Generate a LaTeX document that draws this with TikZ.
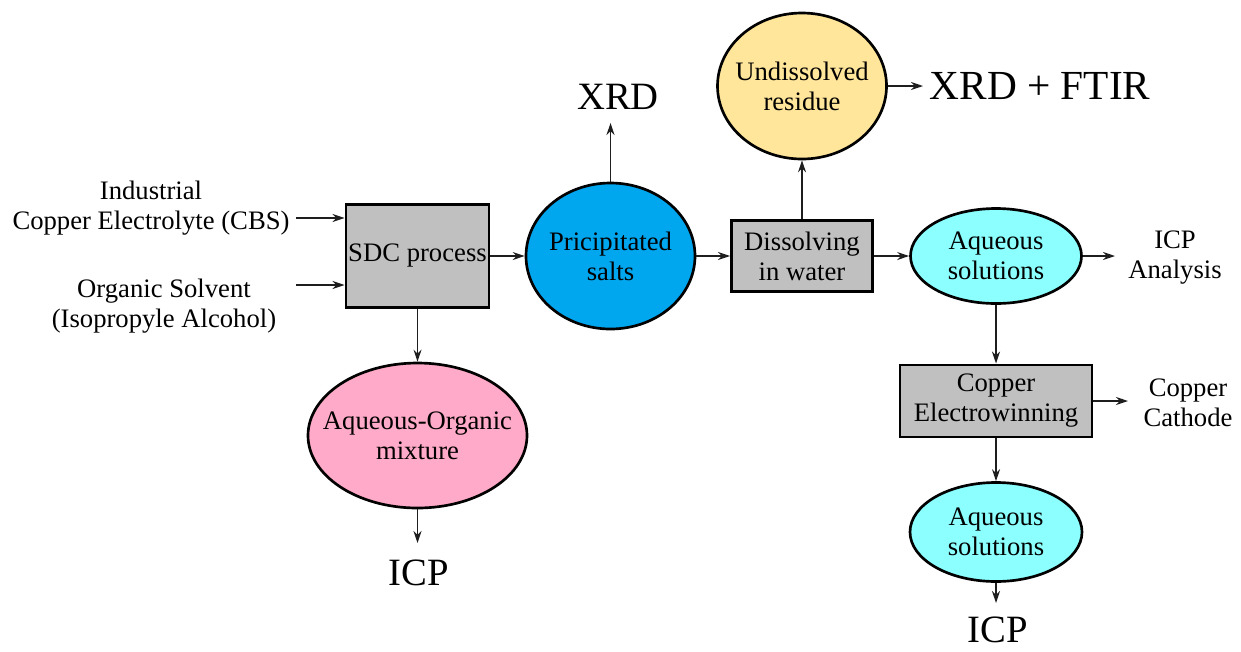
\documentclass[tikz,border=0pt]{standalone}
\usepackage{fontspec}
\setmainfont{Liberation Serif}
\usetikzlibrary{shapes.geometric,arrows.meta}
\definecolor{boxgray}{RGB}{192,192,192}
\definecolor{saltblue}{RGB}{0,166,238}
\definecolor{resyellow}{RGB}{255,230,155}
\definecolor{aqcyan}{RGB}{140,255,255}
\definecolor{mixpink}{RGB}{255,170,200}
\definecolor{linegray}{RGB}{30,30,30}
\newcommand\myfs{\fontsize{20pt}{22.5pt}\selectfont}
\newcommand\mybig{\fontsize{29pt}{32pt}\selectfont}
\begin{document}
\begin{tikzpicture}[x=0.75pt,y=-0.75pt,
  proc/.style={draw=black,line width=2.2pt,fill=boxgray,inner sep=0pt,align=center,font=\myfs},
  blob/.style={ellipse,draw=black,line width=2pt,inner sep=0pt},
  lbl/.style={inner sep=0pt,align=center,font=\myfs},
  biglbl/.style={inner sep=0pt,align=center,font=\mybig},
  arr/.style={draw=linegray,line width=1.1pt,-{Stealth[length=9pt,width=6pt]}}]
\useasboundingbox (0,0) rectangle (1241,651);

% process boxes
\node[proc,minimum width=107.25pt,minimum height=77.25pt] (sdc) at (417.5,256) {SDC process};
\node[proc,minimum width=105.75pt,minimum height=53.25pt] (dis) at (802,256) {Dissolving\\in water};
\node[proc,minimum width=144pt,minimum height=54pt] (ew) at (996,401) {Copper\\Electrowinning};

% ellipses
\node[blob,fill=saltblue,minimum width=126.75pt,minimum height=109.5pt] (salt) at (610.5,256) {};
\node[lbl] (saltT) at (salt.center) {Pricipitated\\salts};
\node[blob,fill=resyellow,minimum width=126.75pt,minimum height=109.5pt] (res) at (802,86) {};
\node[lbl] (resT) at (res.center) {Undissolved\\residue};
\node[blob,fill=aqcyan,minimum width=128.25pt,minimum height=71.25pt] (aq1) at (996,256) {};
\node[lbl] (aq1T) at (aq1.center) {Aqueous\\solutions};
\node[blob,fill=aqcyan,minimum width=129pt,minimum height=74.25pt] (aq2) at (996,532) {};
\node[lbl] (aq2T) at (aq2.center) {Aqueous\\solutions};
\node[blob,fill=mixpink,minimum width=164.25pt,minimum height=108.75pt] (mix) at (417.5,435.5) {};
\node[lbl] (mixT) at (mix.center) {Aqueous-Organic\\mixture};

% labels
\node[lbl] (inA) at (151,208.5) {Industrial\\Copper Electrolyte (CBS)};
\node[lbl] (inB) at (164,306) {Organic Solvent\\(Isopropyle Alcohol)};
\node[biglbl] (xrd) at (618,97) {XRD};
\node[biglbl,font=\fontsize{31pt}{34pt}\selectfont] (xf) at (1040,86) {XRD + FTIR};
\node[lbl] (icpa) at (1175,257.5) {ICP\\Analysis};
\node[lbl] (cath) at (1188,403) {Copper\\Cathode};
\node[biglbl] (icpL) at (419,573) {ICP};
\node[biglbl] (icpR) at (998,630) {ICP};

% free arrow ends
\coordinate (aS) at (296,218);
\coordinate (bS) at (296,285);
\coordinate (xrdE) at (610.5,123);
\coordinate (xfE) at (923,86);
\coordinate (icpaE) at (1115,256);
\coordinate (cathE) at (1128,401);
\coordinate (icpLE) at (417.5,543);
\coordinate (icpRE) at (996,603);

% connectors
\draw[arr] (aS) -- (sdc.west |- aS);
\draw[arr] (bS) -- (sdc.west |- bS);
\draw[arr] (sdc.east) -- (salt.west);
\draw[arr] (salt.north) -- (xrdE);
\draw[arr] (salt.east) -- (dis.west);
\draw[arr] (dis.north) -- (res.south);
\draw[arr] (res.east) -- (xfE);
\draw[arr] (dis.east) -- (aq1.west);
\draw[arr] (aq1.east) -- (icpaE);
\draw[arr] (aq1.south) -- (ew.north);
\draw[arr] (ew.east) -- (cathE);
\draw[arr] (ew.south) -- (aq2.north);
\draw[arr] (aq2.south) -- (icpRE);
\draw[arr] (sdc.south) -- (mix.north);
\draw[arr] (mix.south) -- (icpLE);
\end{tikzpicture}
\end{document}
